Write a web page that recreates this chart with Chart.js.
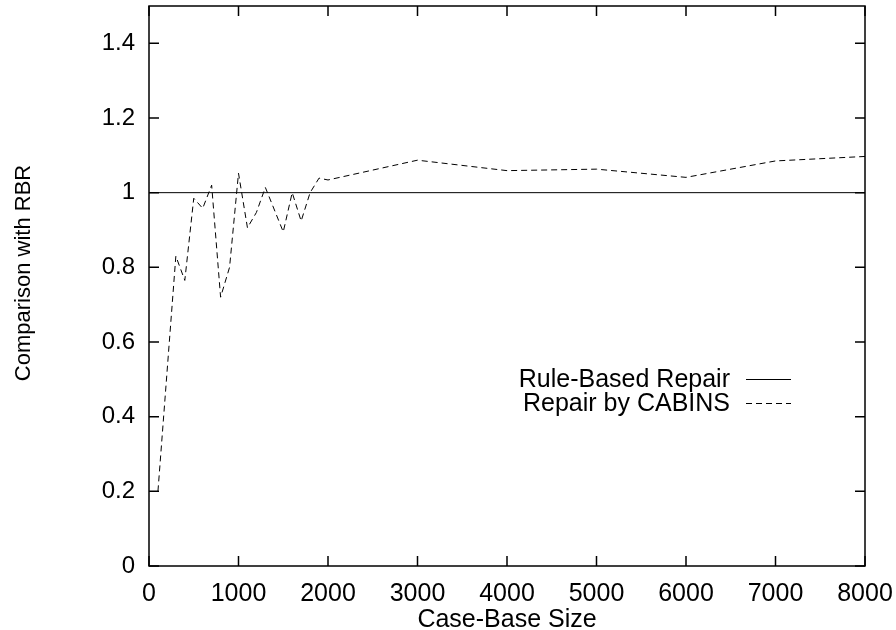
<!DOCTYPE html>
<html>
<head>
<meta charset="utf-8">
<script src="https://cdn.jsdelivr.net/npm/chart.js@4"></script>
<style>
  html, body { margin: 0; padding: 0; background: #fff; }
  #wrap { width: 896px; height: 630px; }
</style>
</head>
<body>
<div id="wrap"><canvas id="chart" width="896" height="630"></canvas></div>
<script>
// case-base sizes and CABINS repair quality relative to RBR
const sizes = [100, 300, 400, 500, 600, 700, 800, 900, 1000, 1100, 1200, 1300, 1500, 1600, 1700, 1800, 1900, 2000, 3000, 4000, 5000, 6000, 7000, 8000];
const cabins = [0.20, 0.83, 0.765, 0.985, 0.958, 1.02, 0.72, 0.80, 1.052, 0.906, 0.947, 1.014, 0.895, 1.0, 0.924, 1.0, 1.039, 1.034, 1.087, 1.059, 1.063, 1.041, 1.085, 1.097];
const rbrX = [0, 8000];
const rbrY = [1, 1];
const xTicks = [0, 1000, 2000, 3000, 4000, 5000, 6000, 7000, 8000];
const yTicks = [0, 0.2, 0.4, 0.6, 0.8, 1, 1.2, 1.4];
const legendLabels = ['Rule-Based Repair', 'Repair by CABINS'];
const yTitle = 'Comparison with RBR';

const FONT = '"Liberation Sans", Arial, Helvetica, sans-serif';
const FS = 24;

// gnuplot style frame with inward ticks on all four sides, plus key and y title
const framePlugin = {
  id: 'frame',
  afterDatasetsDraw(chart) {
    const { ctx, chartArea: a, scales } = chart;
    ctx.save();
    ctx.strokeStyle = '#000';
    ctx.lineWidth = 1.5;
    ctx.strokeRect(a.left, a.top, a.right - a.left, a.bottom - a.top);
    const len = 10;
    ctx.beginPath();
    xTicks.forEach(v => {
      const x = scales.x.getPixelForValue(v);
      ctx.moveTo(x, a.bottom); ctx.lineTo(x, a.bottom - len);
      ctx.moveTo(x, a.top); ctx.lineTo(x, a.top + len);
    });
    yTicks.forEach(v => {
      const y = scales.y.getPixelForValue(v);
      ctx.moveTo(a.left, y); ctx.lineTo(a.left + len, y);
      ctx.moveTo(a.right, y); ctx.lineTo(a.right - len, y);
    });
    ctx.stroke();

    // key
    ctx.font = '25px ' + FONT;
    ctx.fillStyle = '#000';
    ctx.textAlign = 'right';
    ctx.textBaseline = 'middle';
    const ys = [379, 403];
    chart.data.datasets.forEach((ds, i) => {
      ctx.fillText(legendLabels[i], 730, ys[i] + 1);
      ctx.beginPath();
      ctx.lineWidth = 1;
      ctx.setLineDash(ds.borderDash || []);
      ctx.moveTo(746, ys[i] + 0.5);
      ctx.lineTo(791, ys[i] + 0.5);
      ctx.stroke();
    });
    ctx.setLineDash([]);

    // y axis title
    ctx.translate(23, 273);
    ctx.rotate(-Math.PI / 2);
    ctx.font = '22px ' + FONT;
    ctx.textAlign = 'center';
    ctx.fillText(yTitle, 0, 1);
    ctx.restore();
  }
};

new Chart(document.getElementById('chart'), {
  type: 'line',
  data: {
    datasets: [
      {
        label: legendLabels[0],
        data: rbrX.map((x, i) => ({ x: x, y: rbrY[i] })),
        borderColor: '#000',
        borderWidth: 1,
        pointRadius: 0,
        tension: 0
      },
      {
        label: legendLabels[1],
        data: sizes.map((x, i) => ({ x: x, y: cabins[i] })),
        borderColor: '#000',
        borderWidth: 1,
        borderDash: [6, 4],
        pointRadius: 0,
        tension: 0
      }
    ]
  },
  options: {
    responsive: false,
    animation: false,
    layout: { padding: { top: 6, right: 31, left: 0, bottom: 0 } },
    plugins: {
      legend: { display: false },
      tooltip: { enabled: false }
    },
    scales: {
      x: {
        type: 'linear',
        min: 0,
        max: 8000,
        afterBuildTicks: s => { s.ticks = xTicks.map(v => ({ value: v })); },
        afterFit: s => {
          s.height = 64;
          s.paddingLeft = 0;
          s.paddingRight = 0;
        },
        grid: { display: false, drawTicks: false },
        border: { display: false },
        ticks: {
          padding: 13,
          color: '#000',
          font: { family: FONT, size: 25 },
          maxRotation: 0,
          callback: v => String(v)
        },
        title: {
          display: true,
          text: 'Case-Base Size',
          color: '#000',
          font: { family: FONT, size: 25, lineHeight: 0.8 },
          padding: { top: 0, bottom: 0 }
        }
      },
      y: {
        min: 0,
        max: 1.5,
        afterBuildTicks: s => { s.ticks = yTicks.map(v => ({ value: v })); },
        afterFit: s => {
          s.width = 149;
          s.paddingTop = 0;
          s.paddingBottom = 0;
        },
        grid: { display: false, drawTicks: false },
        border: { display: false },
        ticks: {
          padding: 14,
          color: '#000',
          font: { family: FONT, size: FS },
          callback: v => String(Math.round(v * 10) / 10)
        }
      }
    }
  },
  plugins: [framePlugin]
});
</script>
</body>
</html>
